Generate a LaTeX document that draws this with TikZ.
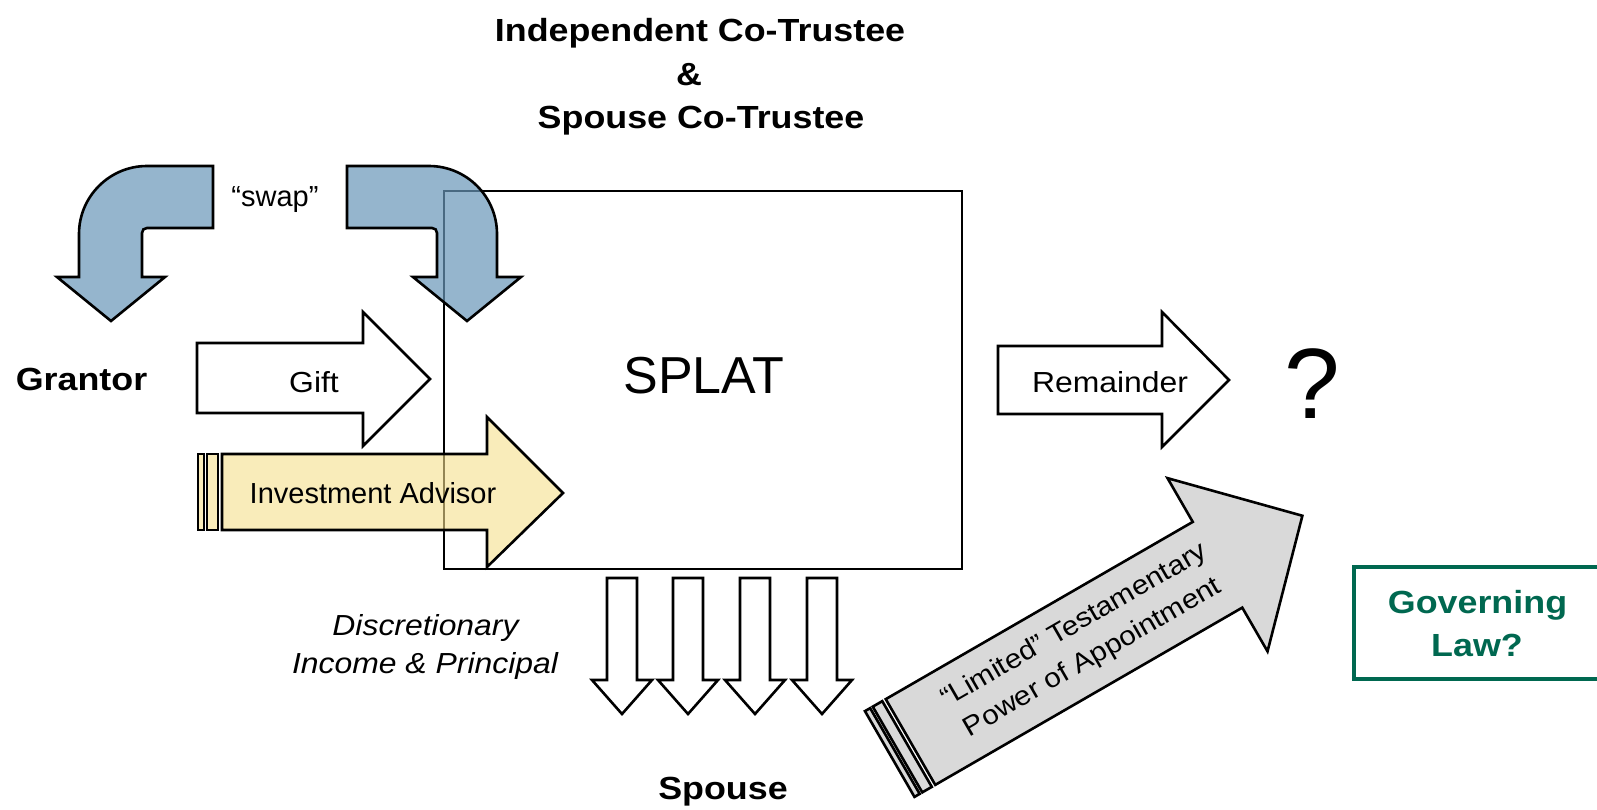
\documentclass[tikz,border=0pt]{standalone}
\usepackage{fontspec}
\setmainfont{Liberation Sans}
\newfontfamily\labw[FakeStretch=1.1]{Liberation Sans}
\newfontfamily\labb[FakeStretch=1.12]{Liberation Sans}
\definecolor{swapblue}{RGB}{104,150,184}
\definecolor{advyellow}{RGB}{245,223,140}
\definecolor{poagray}{RGB}{217,217,217}
\definecolor{lawgreen}{RGB}{0,104,80}
\tikzset{
  outl/.style={draw=black, line width=2.6pt, line join=miter},
  whitearrow/.style={outl, fill=white},
  swaparrow/.style={outl, fill=swapblue, fill opacity=0.7},
  advarrow/.style={outl, fill=advyellow, fill opacity=0.6},
  poaarrow/.style={outl, fill=poagray},
  txt/.style={inner sep=0pt, outer sep=0pt, anchor=base},
  boldlab/.style={txt, font=\labb\bfseries\fontsize{32}{38}\selectfont},
  lab/.style={txt, font=\labw\fontsize{29}{35}\selectfont},
  labn/.style={txt, font=\fontsize{29}{35}\selectfont},
  splatbox/.style={draw=black, line width=2.4pt, inner sep=0pt, anchor=north west},
  lawbox/.style={draw=lawgreen, line width=4pt, inner sep=0pt, anchor=north west},
}
\begin{document}
\begin{tikzpicture}[x=1pt,y=-1pt]
\useasboundingbox (0,0) rectangle (1597,809);

% title
\node[boldlab] (t1) at (700,41) {Independent Co-Trustee};
\node[boldlab] (t2) at (689,85) {\&};
\node[boldlab] (t3) at (701,128) {Spouse Co-Trustee};

% main box
\node[splatbox, minimum width=518pt, minimum height=378pt] (splat) at (443,190) {};
\node[txt, font=\fontsize{52}{60}\selectfont] (splatlab) at (704,393) {SPLAT};

% swap arrows
\draw[swaparrow] (213,166) -- (213,228) -- (147,228) .. controls (144,228) and (142,230) .. (142,233)
  -- (142,277) -- (165,277) -- (111,321) -- (57,277) -- (79,277) -- (79,234)
  .. controls (79,196.5) and (109.5,166) .. (147,166) -- cycle;
\draw[swaparrow] (347,166) -- (347,228) -- (432,228) .. controls (435,228) and (437,230) .. (437,233)
  -- (437,277) -- (413,277) -- (467,321) -- (521,277) -- (497,277) -- (497,234)
  .. controls (497,196.5) and (466.5,166) .. (429,166) -- cycle;
\node[labn] (swap) at (275,206) {“swap”};

% grantor and gift
\node[boldlab] (grantor) at (81.5,390) {Grantor};
\draw[whitearrow] (197,343) -- (363,343) -- (363,312) -- (430,379) -- (363,446) -- (363,413) -- (197,413) -- cycle;
\node[lab] (gift) at (314,392) {Gift};

% investment advisor
\draw[advarrow] (198,454) rectangle (204,530);
\draw[advarrow] (207,454) rectangle (218,530);
\draw[advarrow] (222,454) -- (487,454) -- (487,417) -- (563,493) -- (487,567) -- (487,530) -- (222,530) -- cycle;
\node[labn] (advisor) at (373,503) {Investment Advisor};

% remainder
\draw[whitearrow] (998,346) -- (1162,346) -- (1162,312) -- (1229,380) -- (1162,447) -- (1162,414) -- (998,414) -- cycle;
\node[lab] (remainder) at (1110,392) {Remainder};
\node[txt, font=\fontsize{100}{110}\selectfont] (qmark) at (1312,418) {?};

% distributions
\foreach \c in {622,688,755,822}{
  \draw[whitearrow] (\c-15,578) -- (\c+15,578) -- (\c+15,680) -- (\c+30,680) -- (\c,714) -- (\c-30,680) -- (\c-15,680) -- cycle;
}
\node[txt, font=\labw\itshape\fontsize{29}{35}\selectfont] (disc1) at (425.5,635) {Discretionary};
\node[txt, font=\labw\itshape\fontsize{29}{35}\selectfont] (disc2) at (425,673) {Income \& Principal};
\node[boldlab] (spouse) at (723,799) {Spouse};

% power of appointment
\begin{scope}[shift={(910.5,742)}, rotate=30]
  \draw[poaarrow] (-24,-49.5) rectangle (-18,49.5);
  \draw[poaarrow] (-15,-49.5) rectangle (-4,49.5);
  \draw[poaarrow] (0,-49.5) -- (354.5,-49.5) -- (354.5,-100) -- (452.5,0) -- (354.5,100) -- (354.5,49.5) -- (0,49.5) -- cycle;
  \node[rotate=30, inner sep=0pt, align=center, font=\labw\fontsize{27}{37}\selectfont] (poa) at (200,0) {“Limited” Testamentary\\Power of Appointment};
\end{scope}

% governing law
\node[lawbox, minimum width=250pt, minimum height=112pt] (law) at (1352,565) {};
\node[boldlab, text=lawgreen] (law1) at (1477.5,613) {Governing};
\node[boldlab, text=lawgreen] (law2) at (1477,656) {Law?};
\end{tikzpicture}
\end{document}
